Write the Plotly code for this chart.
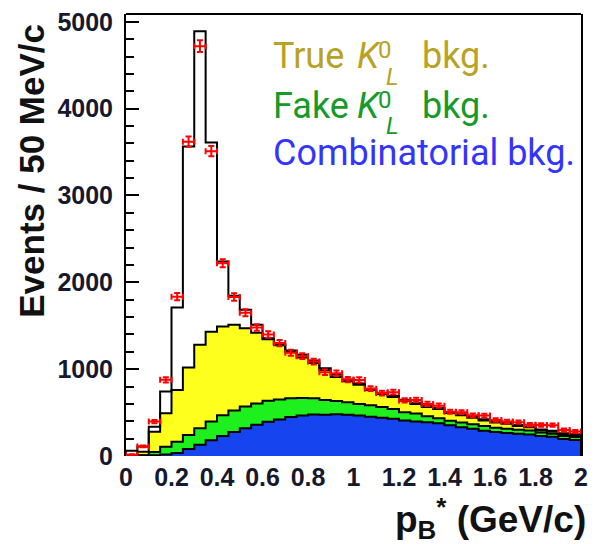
import numpy as np
import plotly.graph_objects as go

# p_B* spectrum, 40 bins of 50 MeV/c between 0 and 2 GeV/c
bin_width = 0.05
n_bins = 40

# Background components (events per bin)
comb = [0, 5, 10, 18, 35, 80, 130, 180, 230, 275, 320, 360, 395, 420, 450, 465, 478, 475, 482, 475,
        465, 452, 440, 430, 410, 398, 388, 378, 355, 330, 315, 290, 275, 265, 255, 248, 230, 222, 195, 185]
fake_kl = [0, 5, 35, 89, 130, 162, 189, 216, 240, 250, 250, 245, 240, 232, 215, 203, 187, 170, 150, 145,
           135, 133, 125, 112, 95, 90, 70, 58, 52, 55, 50, 55, 50, 48, 48, 45, 40, 35, 35, 35]
true_kl = [10, 40, 235, 385, 596, 778, 961, 1034, 1022, 986, 900, 815, 710, 623, 535, 467, 405, 345, 278, 240,
           220, 175, 150, 138, 130, 112, 107, 104, 88, 85, 75, 65, 60, 57, 42, 37, 25, 23, 18, 15]
# Signal contribution on top of the backgrounds
signal = [50, 60, 58, 250, 949, 2544, 3610, 2180, 748, 334, 214, 91, 12, 15, 15, 30, 30, 20, 25, 20,
          15, 15, 13, 15, 13, 12, 15, 12, 13, 12, 12, 12, 13, 10, 11, 10, 11, 10, 14, 15]
# Observed events
observed = [15, 110, 396, 877, 1835, 3620, 4720, 3510, 2220, 1830, 1650, 1480, 1400, 1300, 1190, 1150, 1088, 965, 953, 880,
            876, 775, 725, 735, 640, 646, 600, 580, 510, 505, 468, 465, 415, 398, 390, 360, 357, 355, 300, 282]

x_tick_vals = [0, 0.2, 0.4, 0.6, 0.8, 1.0, 1.2, 1.4, 1.6, 1.8, 2.0]
x_tick_text = ["0", "0.2", "0.4", "0.6", "0.8", "1", "1.2", "1.4", "1.6", "1.8", "2"]
y_tick_vals = [0, 1000, 2000, 3000, 4000, 5000]

edges = np.arange(n_bins + 1) * bin_width
centers = edges[:-1] + bin_width / 2

comb_top = np.array(comb, dtype=float)
fake_top = comb_top + np.array(fake_kl)
true_top = fake_top + np.array(true_kl)
total_top = true_top + np.array(signal)


def step_xy(vals):
    """Closed histogram outline for an hv-shaped line."""
    vals = list(vals)
    xs = [edges[0]] + list(edges) + [edges[-1]]
    ys = [0] + vals + [vals[-1]] + [0]
    return xs, ys


fig = go.Figure()

fills = [
    (true_top, "#ffff1e"),
    (fake_top, "#1ef01e"),
    (comb_top, "#1644ee"),
]
for top, colour in fills:
    xs, ys = step_xy(top)
    fig.add_trace(go.Scatter(
        x=xs, y=ys, mode="lines", line=dict(color="black", width=2, shape="hv"),
        fill="tozeroy", fillcolor=colour, hoverinfo="skip", showlegend=False,
    ))

xs, ys = step_xy(total_top)
fig.add_trace(go.Scatter(
    x=xs, y=ys, mode="lines", line=dict(color="black", width=2, shape="hv"),
    hoverinfo="skip", showlegend=False,
))

obs = np.array(observed, dtype=float)
fig.add_trace(go.Scatter(
    x=centers, y=obs, mode="markers",
    marker=dict(size=1, color="red"),
    error_y=dict(type="data", array=np.sqrt(obs), color="red", thickness=2, width=3),
    error_x=dict(type="constant", value=bin_width / 2, color="red", thickness=2, width=3),
    showlegend=False,
))

tick_font = dict(family="Liberation Sans, Arial, sans-serif", size=25, color="#16182e", weight="bold")

fig.update_layout(
    width=596, height=544,
    margin=dict(l=126, r=8, t=12, b=88),
    paper_bgcolor="white", plot_bgcolor="white",
    xaxis=dict(
        range=[0, 2], tickvals=x_tick_vals, ticktext=x_tick_text, ticks="",
        showline=False, showgrid=False, zeroline=False, tickfont=tick_font,
        ticklabelstandoff=4,
    ),
    yaxis=dict(
        range=[0, 5090], tickvals=y_tick_vals, ticks="inside", ticklen=13, tickwidth=2,
        tickcolor="black", showline=True, linecolor="black", linewidth=2, mirror=True,
        showgrid=False, zeroline=False, tickfont=tick_font, ticklabelstandoff=6,
        minor=dict(dtick=200, ticks="inside", ticklen=8, tickwidth=2, tickcolor="black", showgrid=False),
    ),
    shapes=[dict(type="line", xref="paper", yref="paper", x0=0, x1=1, y0=1, y1=1,
                 line=dict(color="black", width=2))],
)

# plot area in pixels: x 126..588, y 12..456
PLOT_L, PLOT_W, PLOT_B, PLOT_H = 126, 462, 456, 444


def px(xp):
    return (xp - PLOT_L) / PLOT_W


def py(yp):
    return (PLOT_B - yp) / PLOT_H


fig.add_annotation(
    text="<b>Events / 50 MeV/c</b>", xref="paper", yref="paper",
    x=px(30), y=py(169), textangle=-90, showarrow=False,
    font=dict(family="Liberation Sans, Arial, sans-serif", size=35, color="#111111"),
    xanchor="center", yanchor="middle",
)
fig.add_annotation(
    text="<b>p<sub>B</sub><sup>*</sup> (GeV/c)</b>", xref="paper", yref="paper",
    x=px(595), y=py(519), showarrow=False,
    font=dict(family="Liberation Sans, Arial, sans-serif", size=37, color="#111111"),
    xanchor="right", yanchor="middle",
)

# Legend-style labels
legend_family = "Roboto, sans-serif"
rows = [
    ("True", "#b9a224", 67, True),
    ("Fake", "#169a28", 117, True),
    ("Combinatorial bkg.", "#3434ff", 164, False),
]
for word, colour, base, with_kaon in rows:
    fig.add_annotation(
        text=word, xref="paper", yref="paper", x=px(273), y=py(base - 12.5), showarrow=False,
        xanchor="left", yanchor="middle", font=dict(family=legend_family, size=36, color=colour),
    )
    if with_kaon:
        fig.add_annotation(
            text="<i>K</i>", xref="paper", yref="paper", x=px(359), y=py(base - 12.5), showarrow=False,
            xanchor="left", yanchor="middle", font=dict(family=legend_family, size=36, color=colour),
        )
        fig.add_annotation(
            text="0", xref="paper", yref="paper", x=px(380), y=py(base - 19), showarrow=False,
            xanchor="left", yanchor="middle", font=dict(family=legend_family, size=24, color=colour),
        )
        fig.add_annotation(
            text="<i>L</i>", xref="paper", yref="paper", x=px(388), y=py(base + 8), showarrow=False,
            xanchor="left", yanchor="middle", font=dict(family=legend_family, size=24, color=colour),
        )
        fig.add_annotation(
            text="bkg.", xref="paper", yref="paper", x=px(425), y=py(base - 12.5), showarrow=False,
            xanchor="left", yanchor="middle", font=dict(family=legend_family, size=36, color=colour),
        )

fig.write_html("out.html")
